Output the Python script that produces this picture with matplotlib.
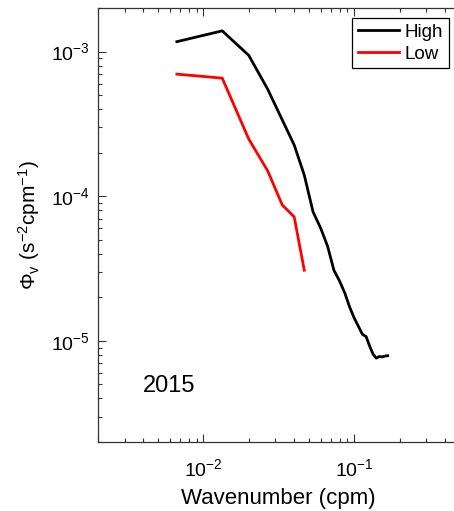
import numpy as np
import matplotlib
matplotlib.use("Agg")
import matplotlib.pyplot as plt
from matplotlib.ticker import LogLocator, NullFormatter

plt.rcParams["font.family"] = ["Liberation Sans", "DejaVu Sans"]
plt.rcParams["mathtext.fontset"] = "custom"
plt.rcParams["mathtext.rm"] = "Liberation Sans"
plt.rcParams["mathtext.it"] = "Liberation Sans:italic"
plt.rcParams["mathtext.default"] = "regular"
plt.rcParams["axes.unicode_minus"] = False

# Wavenumber (cpm) and spectral levels
k_high = np.array([1, 2, 3, 4, 5, 6, 7, 8, 9, 10, 11, 12, 13, 14, 15, 16, 17,
                   18, 19, 20, 21, 22, 23, 24, 25]) / 150.0
phi_high = np.array([1.17e-3, 1.39e-3, 9.4e-4, 5.5e-4, 3.37e-4, 2.26e-4, 1.40e-4,
                     7.8e-5, 6.0e-5, 4.5e-5, 3.08e-5, 2.59e-5, 2.14e-5, 1.71e-5,
                     1.44e-5, 1.26e-5, 1.11e-5, 1.07e-5, 9.2e-6, 8.1e-6, 7.6e-6,
                     7.8e-6, 7.75e-6, 7.85e-6, 7.9e-6])

k_low = np.array([1, 2, 3, 4, 5, 6, 7]) / 150.0
phi_low = np.array([6.98e-4, 6.55e-4, 2.48e-4, 1.50e-4, 8.7e-5, 7.2e-5, 3.08e-5])

series_labels = ["High", "Low"]
year_label = "2015"

W, H = 454, 511
fig = plt.figure(figsize=(W / 100, H / 100), dpi=100)
left, right, top, bottom = 98, 459.6, 8, 442
ax = fig.add_axes([left / W, 1 - bottom / H, (right - left) / W, (bottom - top) / H])

ax.loglog(k_high, phi_high, color="black", lw=2.0, label=series_labels[0])
ax.loglog(k_low, phi_low, color="#ff0000", lw=2.0, label=series_labels[1])

ax.set_xlim(0.002, 0.5)
ax.set_ylim(2e-6, 2e-3)

ax.xaxis.set_major_locator(LogLocator(base=10, numticks=10))
ax.yaxis.set_major_locator(LogLocator(base=10, numticks=10))
ax.xaxis.set_minor_locator(LogLocator(base=10, subs=np.arange(2, 10), numticks=20))
ax.yaxis.set_minor_locator(LogLocator(base=10, subs=np.arange(2, 10), numticks=20))
ax.xaxis.set_minor_formatter(NullFormatter())
ax.yaxis.set_minor_formatter(NullFormatter())

ax.tick_params(which="both", direction="in", top=True, right=False,
               color="#333333", width=0.8)
ax.tick_params(which="major", length=6, labelsize=14)
ax.tick_params(axis="y", which="major", pad=6)
ax.tick_params(axis="x", which="major", pad=12)
ax.tick_params(which="minor", length=3)
for s in ax.spines.values():
    s.set_color("#333333")
    s.set_linewidth(0.9)

ax.set_xlabel("Wavenumber (cpm)", fontsize=16, labelpad=5)
ax.set_ylabel(r"$\Phi_v\ (s^{-2}cpm^{-1})$", fontsize=15, labelpad=6)

ax.text(0.124, 0.129, year_label, transform=ax.transAxes, fontsize=17,
        ha="left", va="center")

leg = ax.legend(loc="upper right", bbox_to_anchor=(449 / W, 1 - 18 / H),
                bbox_transform=fig.transFigure, borderaxespad=0,
                fontsize=13.5, handlelength=2.2, handletextpad=0.3,
                borderpad=0.3, labelspacing=0.25, fancybox=False, framealpha=1)
leg.get_frame().set_edgecolor("black")
leg.get_frame().set_linewidth(0.9)

fig.savefig("out.png", dpi=100)
